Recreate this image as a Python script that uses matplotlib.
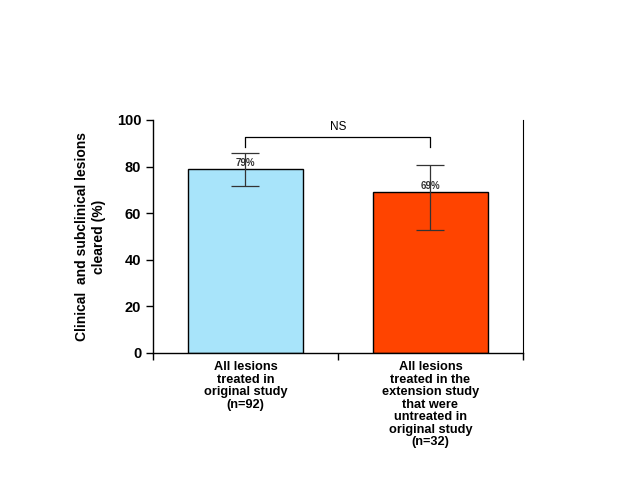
import numpy as np
import matplotlib.pyplot as plt

# -----------------------------
# data
# -----------------------------
categories = ["All lesions\ntreated in\noriginal study\n(n=92)",
              "All lesions\ntreated in the\nextension study\nthat were\nuntreated in\noriginal study\n(n=32)"]
values = [79, 69]
err_low = [7.5, 16]
err_high = [7, 11.5]
bar_labels = ["79%", "69%"]
colors = ["#A8E4FA", "#FF4400"]

plt.rcParams['font.family'] = ['Liberation Sans', 'DejaVu Sans']

fig = plt.figure(figsize=(6.4, 4.8), dpi=100)
ax = fig.add_axes([0.239, 0.2646, 0.578, 0.4854])

x = np.arange(len(values))
ax.bar(x, values, width=0.62, color=colors, edgecolor="black", linewidth=1.0, zorder=2)
ax.errorbar(x, values, yerr=[err_low, err_high], fmt="none", ecolor="#333333",
            elinewidth=0.9, capsize=10, capthick=0.9, zorder=3)

for xi, v, lab in zip(x, values, bar_labels):
    ax.text(xi, v + 0.6, lab, ha="center", va="bottom", fontsize=7,
            fontweight="bold", color="#333333", zorder=4)

# NS bracket
ax.plot([0, 0, 1, 1], [88.5, 92.7, 92.7, 88.5], color="black", linewidth=0.9)
ax.text(0.5, 94.3, "NS", ha="center", va="bottom", fontsize=8.5)

ax.set_xlim(-0.5, 1.5)
ax.set_ylim(0, 100)
ax.set_yticks([0, 20, 40, 60, 80, 100])
ax.tick_params(axis="y", direction="out", length=5, width=1, labelsize=10.5)
for t in ax.get_yticklabels():
    t.set_fontweight("bold")

ax.set_xticks([-0.5, 0.5, 1.5])
ax.set_xticklabels([])
ax.tick_params(axis="x", which="major", direction="out", length=5, width=1)
ax.set_xticks(x, minor=True)
ax.set_xticklabels(categories, minor=True, fontsize=9.2, fontweight="bold",
                   linespacing=1.05)
ax.tick_params(axis="x", which="minor", length=0, pad=6)

ax.spines["top"].set_visible(False)
ax.spines["right"].set_linewidth(0.8)
ax.spines["left"].set_linewidth(1.0)
ax.spines["bottom"].set_linewidth(1.0)

ax.set_ylabel("Clinical  and subclinical lesions\ncleared (%)", fontsize=10,
              fontweight="bold", labelpad=8)

fig.savefig("out.png", dpi=100)
